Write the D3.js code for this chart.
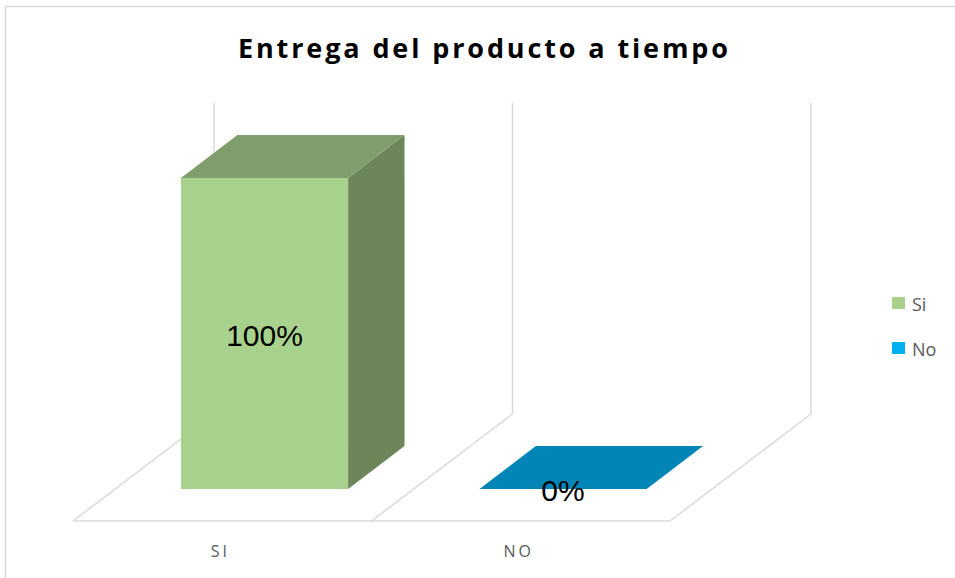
<!DOCTYPE html>
<html>
<head>
<meta charset="utf-8">
<script src="https://cdn.jsdelivr.net/npm/d3@7"></script>
<style>
  body { margin: 0; background: #fff; }
  svg { display: block; }
</style>
</head>
<body>
<div id="chart"></div>
<script>
var svgWidth = 955;
var svgHeight = 578;

// data
var categories = ["SI", "NO"];
var seriesNames = ["Si", "No"];
var values = [1.00, 0.00];
var valueLabels = ["100%", "0%"];

var frontColors = ["#A9D18E", "#0085B6"];
var topColors = ["#809E6B", "#0085B6"];
var sideColors = ["#6C865A", "#006A91"];
var legendColors = ["#A9D18E", "#00B0F0"];

// 3d floor layout
var floor = { left: 73, right: 670, front: 521 };
var depth = { dx: 141, dy: -107 };
var barFront = 0.3, barBack = 0.7;

var svg = d3.select("#chart").append("svg").attr("width", svgWidth).attr("height", svgHeight);

// chart area border
svg.append("rect").attr("x", 5.5).attr("y", 6.5).attr("width", 960).attr("height", 600)
    .attr("fill", "none").attr("stroke", "#D9D9D9").attr("stroke-width", 1.5);

svg.append("text").attr("x", 483).attr("y", 58).attr("text-anchor", "middle")
    .attr("font-family", "Open Sans").attr("font-weight", "bold").attr("font-size", "27px")
    .attr("textLength", 490).attr("lengthAdjust", "spacing")
    .attr("fill", "#000").text("Entrega del producto a tiempo");

var xScale = d3.scaleBand().domain(categories).range([floor.left, floor.right]).paddingInner(0).paddingOuter(0);
var yScale = d3.scaleLinear().domain([0, 1]).range([0, 311]);

// project a point (x along front, depth fraction d, height h in px)
function proj(x, d, h) {
    return [x + depth.dx * d, floor.front + depth.dy * d - h];
}

var grid = svg.append("g").attr("fill", "none").attr("stroke", "#D9D9D9").attr("stroke-width", 1.5);

grid.append("line").attr("x1", floor.left).attr("x2", floor.right)
    .attr("y1", floor.front).attr("y2", floor.front);

var boundaries = categories.map(c => xScale(c)).concat([xScale(categories[categories.length - 1]) + xScale.bandwidth()]);
boundaries.forEach(function(b) {
    var p = [proj(b, 0, 0), proj(b, 1, 0), proj(b, 1, yScale(1))];
    grid.append("path").attr("d", d3.line()(p));
});

var barWidth = xScale.bandwidth() * 0.56;

var bars = svg.append("g");
categories.forEach(function(c, i) {
    var x0 = xScale(c) + (xScale.bandwidth() - barWidth) / 2;
    var x1 = x0 + barWidth;
    var h = yScale(values[i]);
    var g = bars.append("g");
    if (h > 0) {
        g.append("path").attr("fill", frontColors[i])
            .attr("d", d3.line()([proj(x0, barFront, 0), proj(x1, barFront, 0), proj(x1, barFront, h), proj(x0, barFront, h)]) + "Z");
        g.append("path").attr("fill", sideColors[i])
            .attr("d", d3.line()([proj(x1, barFront, 0), proj(x1, barBack, 0), proj(x1, barBack, h), proj(x1, barFront, h)]) + "Z");
    }
    g.append("path").attr("fill", topColors[i])
        .attr("d", d3.line()([proj(x0, barFront, h), proj(x1, barFront, h), proj(x1, barBack, h), proj(x0, barBack, h)]) + "Z");

    var c0 = proj((x0 + x1) / 2, barFront, h / 2);
    g.append("text").attr("x", c0[0]).attr("y", c0[1] + 2).attr("dy", "0.35em")
        .attr("text-anchor", "middle").attr("font-family", "Liberation Sans, Arial")
        .attr("font-size", "30px").attr("fill", "#000").text(valueLabels[i]);
});

// category labels
svg.append("g").selectAll("text").data(categories).enter().append("text")
    .attr("x", d => xScale(d) + xScale.bandwidth() / 2 - 2)
    .attr("y", 557).attr("text-anchor", "middle")
    .attr("font-family", "Open Sans").attr("font-size", "16px").attr("letter-spacing", "3px")
    .attr("fill", "#595959").text(d => d);

// legend
var legend = svg.append("g").attr("transform", "translate(892,297)");
seriesNames.forEach(function(s, i) {
    var row = legend.append("g").attr("transform", `translate(0,${i * 45})`);
    row.append("rect").attr("width", 13).attr("height", 12).attr("fill", legendColors[i]);
    row.append("text").attr("x", 20).attr("y", 14).attr("font-family", "Open Sans")
        .attr("font-size", "18px").attr("fill", "#595959").text(s);
});
</script>
</body>
</html>
